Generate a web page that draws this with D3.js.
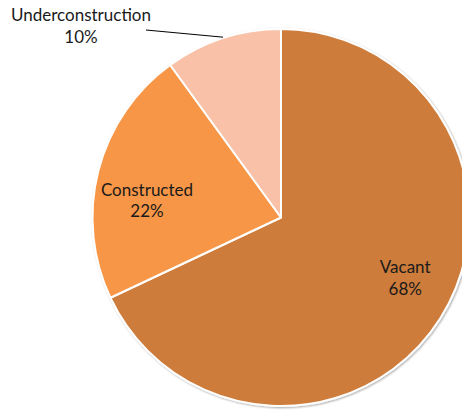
<!DOCTYPE html>
<html><head><meta charset="utf-8">
<script src="https://cdn.jsdelivr.net/npm/d3@7"></script>
<style>html,body{margin:0;padding:0;background:#fff;overflow:hidden}</style>
</head><body>
<svg id="chart" width="462" height="410"></svg>
<script>
const categories = ["Vacant", "Constructed", "Underconstruction"];
const values = [68, 22, 10];
const colors = ["#CD7C3A", "#F79646", "#F9C2A8"];

const svg = d3.select("#chart");
const cx = 281, cy = 217.5, R = 188.5;
const data = categories.map((c, i) => ({cat: c, val: values[i], color: colors[i]}));
const pie = d3.pie().value(d => d.val).sort(null);
const arcs = pie(data);
const arc = d3.arc().innerRadius(0).outerRadius(R);

const defs = svg.append("defs");
const f = defs.append("filter").attr("id", "sh").attr("x", "-10%").attr("y", "-10%").attr("width", "120%").attr("height", "120%");
f.append("feGaussianBlur").attr("in", "SourceAlpha").attr("stdDeviation", 1.2).attr("result", "b");
f.append("feOffset").attr("in", "b").attr("dx", 0.8).attr("dy", 1.2).attr("result", "o");
f.append("feComponentTransfer").attr("in", "o").attr("result", "o2")
  .append("feFuncA").attr("type", "linear").attr("slope", 0.35);
const m = f.append("feMerge");
m.append("feMergeNode").attr("in", "o2");
m.append("feMergeNode").attr("in", "SourceGraphic");

const g = svg.append("g").attr("transform", `translate(${cx},${cy})`);
g.append("g").attr("filter", "url(#sh)")
  .selectAll("path").data(arcs).join("path")
  .attr("d", arc)
  .attr("fill", d => d.data.color)
  .attr("stroke", "#fff").attr("stroke-width", 2).attr("stroke-linejoin", "round");

const font = "Lato, 'Open Sans', sans-serif";
function label(x, y, t1, t2) {
  const t = svg.append("text").attr("x", x).attr("y", y)
    .attr("text-anchor", "middle").attr("font-family", font).attr("font-size", 17).attr("fill", "#1a1a1a");
  t.append("tspan").attr("x", x).attr("dy", 0).text(t1);
  t.append("tspan").attr("x", x).attr("dy", 21.5).text(t2);
}

// inside labels from arc centroid plus a nudge
const la = d3.arc().innerRadius(140).outerRadius(140);
const nudges = [[6, -19.5], [1.6, 13.3]];
[0, 1].forEach(i => {
  const a = arcs[i];
  const [x, y] = la.centroid(a);
  label(cx + x + nudges[i][0], cy + y + nudges[i][1], a.data.cat, Math.round(a.data.val) + "%");
});

// outside label with leader line
const u = arcs[2];
const edge = d3.arc().innerRadius(R - 1).outerRadius(R - 1);
const [ex, ey] = edge.centroid(u);
svg.append("line")
  .attr("x1", 146).attr("y1", 30)
  .attr("x2", cx + ex).attr("y2", cy + ey - 2)
  .attr("stroke", "#000").attr("stroke-width", 1);
label(81, 21, u.data.cat, Math.round(u.data.val) + "%");
</script>
</body></html>
